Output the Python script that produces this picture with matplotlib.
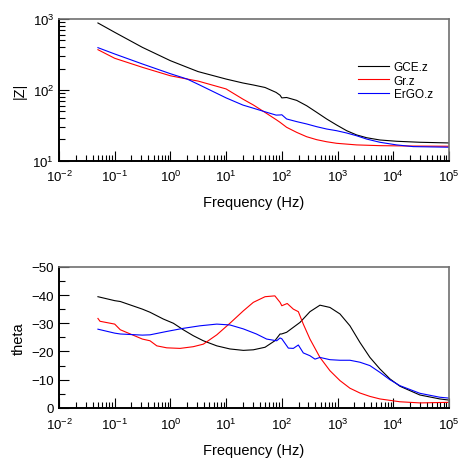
import matplotlib
matplotlib.use("Agg")
import matplotlib.pyplot as plt
from matplotlib.ticker import NullFormatter

plt.rcParams['font.family'] = ['Liberation Sans', 'DejaVu Sans']
plt.rcParams['mathtext.fontset'] = 'custom'
plt.rcParams['mathtext.rm'] = 'Liberation Sans'
plt.rcParams['mathtext.default'] = 'regular'

# |Z| vs frequency (Hz)
f_z_gce = [0.05, 0.1, 0.314, 1, 2, 3.14, 10, 20, 31, 50, 79, 93, 100, 122, 185,
           279, 422, 638, 964, 1460, 2200, 3330, 5760, 11500, 30100, 100000]
z_gce = [879, 649, 398, 258, 208, 181, 142, 125, 117, 108, 92, 84, 77, 78, 71,
         59.7, 48.2, 38.8, 31.9, 26.5, 23.1, 21.1, 19.6, 18.8, 18.2, 17.8]

f_z_gr = [0.05, 0.1, 0.314, 1, 2, 3.14, 10, 20, 31, 50, 79, 93, 122, 185, 279,
          422, 638, 964, 2200, 5760, 22900, 100000]
z_gr = [369, 279, 208, 158, 142, 133, 103, 74, 61, 48, 38, 34.8, 29.6, 25.1,
        21.8, 19.8, 18.5, 17.6, 16.7, 16.3, 16.1, 16.0]

f_z_ergo = [0.05, 0.1, 0.314, 1, 2, 3.14, 10, 20, 31, 50, 79, 93, 100, 122, 185,
            279, 422, 638, 964, 1460, 2200, 3330, 5760, 11500, 22900, 100000]
z_ergo = [394, 321, 232, 169, 142, 120, 77, 61, 55, 49, 44, 44.2, 44.5, 38.8,
          35.6, 33.0, 30.2, 28.0, 26.5, 24.6, 22.5, 20.2, 18.2, 16.7, 15.8, 15.5]

# theta vs frequency (Hz)
f_t_gce = [0.05, 0.1, 0.126, 0.314, 0.43, 0.745, 1.13, 1.7, 2.57, 3.9, 6.8, 11.7,
           20.4, 30.8, 50, 75, 93, 99, 122, 212, 320, 484, 731, 1106, 1671, 2528,
           3820, 5780, 8730, 13200, 30100, 68900, 100000]
th_gce = [-39.4, -38.0, -37.7, -35.0, -33.9, -31.5, -30.0, -27.7, -25.6, -23.8,
          -22.0, -20.9, -20.4, -20.6, -21.5, -23.8, -26.2, -26.2, -26.8, -30.3,
          -34.1, -36.4, -35.6, -33.3, -29.1, -23.2, -17.9, -13.8, -10.3, -7.7,
          -4.6, -3.2, -2.8]

f_t_gr = [0.05, 0.0545, 0.1, 0.126, 0.314, 0.43, 0.57, 0.86, 1.49, 2.57, 3.9, 6.8,
          11.7, 20.4, 30.8, 50, 75, 93, 100, 125, 161, 198, 243, 320, 484, 731,
          1106, 1671, 2528, 3820, 5780, 13200, 30100, 100000]
th_gr = [-31.7, -30.7, -29.7, -27.7, -24.4, -23.8, -22.0, -21.3, -21.1, -21.7,
         -22.6, -25.9, -30.0, -34.4, -37.4, -39.4, -39.7, -37.4, -36.2, -37.0,
         -35.0, -34.1, -29.7, -24.4, -17.9, -13.2, -9.7, -7.0, -5.3, -4.1, -3.2,
         -2.2, -1.8, -2.0]

f_t_ergo = [0.05, 0.1, 0.126, 0.314, 0.43, 0.86, 1.7, 3.4, 6.8, 11.7, 20.4, 35,
            53.4, 81, 93, 100, 131, 161, 198, 243, 320, 394, 484, 731, 1106, 1671,
            2528, 3820, 5780, 8730, 13200, 30100, 68900, 100000]
th_ergo = [-27.9, -26.5, -26.2, -25.8, -25.9, -27.1, -28.2, -29.1, -29.7, -29.4,
           -28.0, -26.2, -24.4, -23.8, -24.8, -24.5, -21.2, -21.1, -22.3, -19.5,
           -18.5, -17.3, -17.9, -17.1, -16.9, -16.9, -16.2, -15.0, -12.6, -10.0,
           -7.9, -5.2, -3.8, -3.5]

labels = ["GCE.z", "Gr.z", "ErGO.z"]
colors = ["black", "red", "blue"]
xticks = [1e-2, 1e-1, 1e0, 1e1, 1e2, 1e3, 1e4, 1e5]

fig = plt.figure(figsize=(4.62, 4.60), dpi=100)
ax1 = fig.add_axes([0.1277, 0.6485, 0.844, 0.308])
ax2 = fig.add_axes([0.1277, 0.1109, 0.844, 0.307])

top = [(f_z_gce, z_gce), (f_z_gr, z_gr), (f_z_ergo, z_ergo)]
bot = [(f_t_gce, th_gce), (f_t_gr, th_gr), (f_t_ergo, th_ergo)]
for (x, y), c, l in zip(top, colors, labels):
    ax1.plot(x, y, color=c, lw=0.8, label=l)
for (x, y), c in zip(bot, colors):
    ax2.plot(x, y, color=c, lw=0.8)

for ax in (ax1, ax2):
    ax.set_xscale('log')
    ax.set_xticks(xticks)
    ax.set_xlim(1e-2, 1e5)
    ax.xaxis.set_minor_formatter(NullFormatter())
    ax.set_xlabel("Frequency (Hz)", fontsize=10.5, labelpad=8)
    ax.tick_params(which='both', direction='in', top=False, right=False,
                   labelsize=9.5, width=0.8)
    ax.tick_params(which='major', length=7)
    ax.tick_params(which='minor', length=4)
    ax.tick_params(axis='x', pad=6)
    for s in ('left', 'bottom'):
        ax.spines[s].set_linewidth(1.4)
        ax.spines[s].set_color('black')
    for s in ('top', 'right'):
        ax.spines[s].set_linewidth(1.2)
        ax.spines[s].set_color('#707070')

ax1.set_yscale('log')
ax1.set_yticks([10, 100, 1000])
ax1.set_ylim(10, 1000)
ax1.yaxis.set_minor_formatter(NullFormatter())
ax1.set_ylabel("|Z|", fontsize=10.5)
ax1.legend(loc='upper left', bbox_to_anchor=(0.74, 0.78), frameon=False,
           fontsize=8.5, handlelength=2.6, handletextpad=0.4, labelspacing=0.15)

ax2.set_ylim(0, -50)
ax2.set_yticks([0, -10, -20, -30, -40, -50])
ax2.set_yticks([-5, -15, -25, -35, -45], minor=True)
ax2.set_ylabel("theta", fontsize=10.5)

fig.savefig("out.png", dpi=100)
